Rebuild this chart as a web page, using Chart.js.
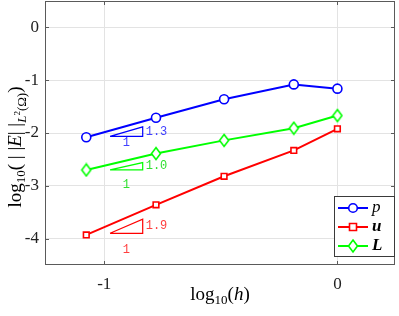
<!DOCTYPE html>
<html>
<head>
<meta charset="utf-8">
<script src="https://cdn.jsdelivr.net/npm/chart.js@4.4.1/dist/chart.umd.min.js"></script>
<style>
  html, body { margin: 0; padding: 0; background: #fff; }
  #wrap { width: 399px; height: 316px; }
</style>
</head>
<body>
<div id="wrap"><canvas id="errChart" width="399" height="316"></canvas></div>
<script>
// log10(h) for the mesh levels
const logH = [-1.077, -0.778, -0.486, -0.187, 0];

// log10 of the L2 errors
const errP = [-2.08, -1.71, -1.36, -1.08, -1.16];
const errU = [-3.93, -3.36, -2.82, -2.33, -1.92];
const errL = [-2.70, -2.39, -2.14, -1.91, -1.67];

// slope triangles (x, y corners)
const triX = [-0.975, -0.835, -0.835, -0.975];
const triP = [-2.064, -2.064, -1.884, -2.064];
const triL = [-2.70, -2.70, -2.56, -2.70];
const triU = [-3.90, -3.90, -3.634, -3.90];
const slopeText = ["1.3", "1.0", "1.9"];
const runLabelY = [-2.18, -2.99, -4.22];

const xTicks = [-1, 0];
const yTicks = [-4, -3, -2, -1, 0];
const seriesNames = ["p", "u", "L"];

const BLUE = "#0000ff", RED = "#ff0000", GREEN = "#00ff00";
const SERIF = "'Liberation Serif', 'DejaVu Serif', serif";
const MONO = "'Liberation Mono', 'DejaVu Sans Mono', monospace";

function pts(xs, ys) {
  return xs.map((x, i) => ({ x: x, y: ys[i] }));
}

// narrow MATLAB-style diamond marker
function makeDiamond(color) {
  const c = document.createElement("canvas");
  c.width = 12; c.height = 15;
  const g = c.getContext("2d");
  g.strokeStyle = color;
  g.lineWidth = 1.6;
  g.beginPath();
  g.moveTo(6, 1.5); g.lineTo(10.5, 7.5); g.lineTo(6, 13.5); g.lineTo(1.5, 7.5);
  g.closePath();
  g.fillStyle = "#fff";
  g.fill();
  g.stroke();
  return c;
}
const diamond = makeDiamond(GREEN);

function drawRich(ctx, segs, cx, cy) {
  let total = 0;
  segs.forEach(s => { ctx.font = s.font; s.w = ctx.measureText(s.t).width; total += s.w; });
  let x = cx - total / 2;
  ctx.textAlign = "left";
  ctx.textBaseline = "alphabetic";
  segs.forEach(s => {
    ctx.font = s.font;
    ctx.fillText(s.t, x, cy + (s.dy || 0));
    x += s.w;
  });
}

const decorPlugin = {
  id: "decor",
  afterDatasetsDraw(chart) {
    const ctx = chart.ctx;
    const a = chart.chartArea;
    const xs = chart.scales.x, ys = chart.scales.y;
    ctx.save();

    // box and inward ticks
    ctx.strokeStyle = "#5a5a5a";
    ctx.lineWidth = 1;
    ctx.strokeRect(a.left + 0.5, a.top + 0.5, a.right - a.left - 1, a.bottom - a.top - 1);
    ctx.beginPath();
    xTicks.forEach(v => {
      const px = Math.round(xs.getPixelForValue(v)) + 0.5;
      ctx.moveTo(px, a.bottom); ctx.lineTo(px, a.bottom - 4);
      ctx.moveTo(px, a.top); ctx.lineTo(px, a.top + 4);
    });
    yTicks.forEach(v => {
      const py = Math.round(ys.getPixelForValue(v)) + 0.5;
      ctx.moveTo(a.left, py); ctx.lineTo(a.left + 4, py);
      ctx.moveTo(a.right, py); ctx.lineTo(a.right - 4, py);
    });
    ctx.stroke();

    // slope labels
    [[triP, "#4040ff"], [triL, "#30e030"], [triU, "#ff4040"]].forEach((t, i) => {
      const ty = t[0];
      ctx.fillStyle = t[1];
      ctx.font = "12px " + MONO;
      ctx.textBaseline = "middle";
      ctx.textAlign = "left";
      const midY = (ty[1] + ty[2]) / 2;
      ctx.fillText(slopeText[i], xs.getPixelForValue(triX[1]) + 3, ys.getPixelForValue(midY));
      ctx.textAlign = "center";
      ctx.fillText("1", xs.getPixelForValue((triX[0] + triX[1]) / 2), ys.getPixelForValue(runLabelY[i]));
    });

    // legend
    const lx = 334, ly = 196, lw = 61, lh = 61;
    ctx.fillStyle = "#fff";
    ctx.fillRect(lx, ly, lw, lh);
    ctx.strokeStyle = "#3a3a3a";
    ctx.lineWidth = 1;
    ctx.strokeRect(lx + 0.5, ly + 0.5, lw - 1, lh - 1);
    const rows = [
      { c: BLUE, y: 208, font: "italic 17px " + SERIF },
      { c: RED, y: 227, font: "bold italic 17px " + SERIF },
      { c: GREEN, y: 246, font: "bold italic 17px " + SERIF }
    ];
    rows.forEach((r, i) => {
      ctx.strokeStyle = r.c;
      ctx.lineWidth = 2;
      ctx.beginPath(); ctx.moveTo(338, r.y); ctx.lineTo(368, r.y); ctx.stroke();
      ctx.lineWidth = 1.6;
      ctx.beginPath();
      if (i === 0) ctx.arc(353, r.y, 4.3, 0, Math.PI * 2);
      else if (i === 1) ctx.rect(349.5, r.y - 3.5, 7, 7);
      else { ctx.moveTo(353, r.y - 6); ctx.lineTo(357.5, r.y); ctx.lineTo(353, r.y + 6); ctx.lineTo(348.5, r.y); ctx.closePath(); }
      ctx.fillStyle = "#fff";
      ctx.fill();
      ctx.stroke();
      ctx.fillStyle = "#000";
      ctx.font = r.font;
      ctx.textAlign = "left";
      ctx.textBaseline = "middle";
      ctx.fillText(seriesNames[i], 372, r.y);
    });

    // axis titles
    ctx.fillStyle = "#000";
    drawRich(ctx, [
      { t: "log", font: "19px " + SERIF },
      { t: "10", font: "13px " + SERIF, dy: 4 },
      { t: "(", font: "19px " + SERIF },
      { t: "h", font: "italic 19px " + SERIF },
      { t: ")", font: "19px " + SERIF }
    ], 220, 300);

    ctx.translate(21, 147);
    ctx.rotate(-Math.PI / 2);
    drawRich(ctx, [
      { t: "log", font: "19px " + SERIF },
      { t: "10", font: "13px " + SERIF, dy: 4 },
      { t: "( | |", font: "19px " + SERIF },
      { t: "E", font: "italic 19px " + SERIF },
      { t: "| |", font: "19px " + SERIF },
      { t: "L", font: "italic 13px " + SERIF, dy: 5 },
      { t: "2", font: "9px " + SERIF, dy: -1 },
      { t: "(Ω)", font: "13px " + SERIF, dy: 5 },
      { t: ")", font: "19px " + SERIF }
    ], 0, 0);

    ctx.restore();
  }
};

const lineSet = (data, color, style, size) => ({
  data: data,
  borderColor: color,
  backgroundColor: "#fff",
  borderWidth: 2,
  pointBorderWidth: 1.6,
  pointStyle: style,
  pointRadius: size,
  pointHoverRadius: size,
  showLine: true,
  tension: 0
});

const triSet = (data, color) => ({
  data: data,
  borderColor: color,
  borderWidth: 1.2,
  pointRadius: 0,
  showLine: true,
  tension: 0
});

new Chart(document.getElementById("errChart"), {
  type: "scatter",
  data: {
    datasets: [
      lineSet(pts(logH, errP), BLUE, "circle", 4.5),
      lineSet(pts(logH, errU), RED, "rect", 4),
      lineSet(pts(logH, errL), GREEN, diamond, 7),
      triSet(pts(triX, triP), BLUE),
      triSet(pts(triX, triL), GREEN),
      triSet(pts(triX, triU), RED)
    ]
  },
  options: {
    responsive: false,
    animation: false,
    layout: { autoPadding: false, padding: { top: 1, right: 4, left: 0, bottom: 0 } },
    plugins: { legend: { display: false }, tooltip: { enabled: false } },
    scales: {
      x: {
        type: "linear",
        min: -1.254,
        max: 0.247,
        afterBuildTicks: (s) => { s.ticks = xTicks.map(v => ({ value: v })); },
        afterFit: (s) => { s.height = 51; s.paddingLeft = 0; s.paddingRight = 0; },
        grid: { color: "#e3e3e3", drawTicks: false },
        border: { display: false },
        ticks: { padding: 9, color: "#222", font: { family: SERIF, size: 17 }, callback: (v) => String(v) }
      },
      y: {
        type: "linear",
        min: -4.5,
        max: 0.5,
        afterBuildTicks: (s) => { s.ticks = yTicks.map(v => ({ value: v })); },
        afterFit: (s) => { s.width = 45; s.paddingTop = 0; s.paddingBottom = 0; },
        grid: { color: "#e3e3e3", drawTicks: false },
        border: { display: false },
        ticks: { padding: 6, color: "#222", font: { family: SERIF, size: 17 }, callback: (v) => String(v) }
      }
    }
  },
  plugins: [decorPlugin]
});
</script>
</body>
</html>
